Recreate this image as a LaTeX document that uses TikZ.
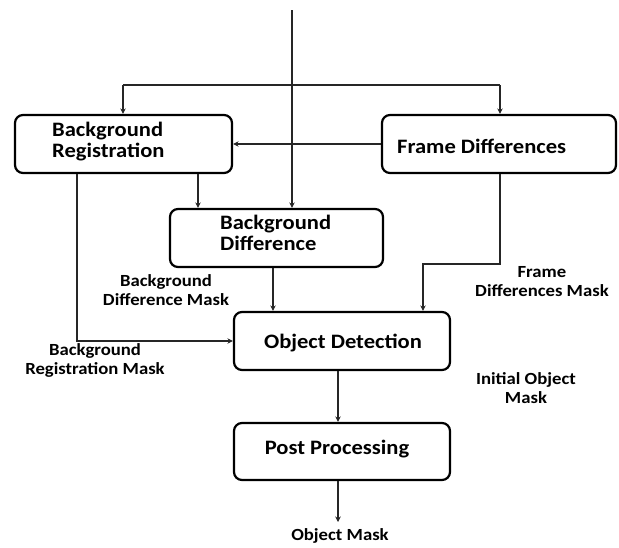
\documentclass[tikz,border=0pt]{standalone}
\usepackage{fontspec}
\setmainfont{Carlito}[FakeStretch=1.1]
\usetikzlibrary{arrows.meta}
\begin{document}
\begin{tikzpicture}[x=1pt,y=-1pt,
  box/.style={draw=black,line width=2.2pt,rounded corners=8pt,inner sep=0pt},
  boxtxt/.style={font=\fontsize{20.5}{21}\selectfont\bfseries,inner sep=0pt,align=left},
  lbl/.style={font=\fontsize{17}{19}\selectfont\bfseries,inner sep=0pt,align=center},
  conn/.style={draw=black!85,line width=1.3pt},
  arr/.style={conn,-{Stealth[length=5.5pt,width=5.5pt]}}]
\useasboundingbox (0,0) rectangle (619,547);
% boxes
\node[box,minimum width=217pt,minimum height=58pt] (BR) at (123.5,144) {};
\node[box,minimum width=234pt,minimum height=58pt] (FD) at (499,144) {};
\node[box,minimum width=213pt,minimum height=58pt] (BD) at (276.5,238) {};
\node[box,minimum width=216pt,minimum height=58pt] (OD) at (342,341) {};
\node[box,minimum width=216pt,minimum height=57pt] (PP) at (342,451.5) {};
% box texts
\node[boxtxt,anchor=west] (tBR) at (52,142) {Background\\Registration};
\node[boxtxt,anchor=west] (tFD) at (397,146) {Frame Differences};
\node[boxtxt,anchor=west] (tBD) at (220,233) {Background\\Difference};
\node[boxtxt] (tOD) at (343,343) {Object Detection};
\node[boxtxt] (tPP) at (337,449) {Post Processing};
% labels
\node[lbl] (lBDM) at (166,290) {Background\\Difference Mask};
\node[lbl] (lFDM) at (542,282) {Frame\\Differences Mask};
\node[lbl] (lBRM) at (95,360) {Background\\Registration Mask};
\node[lbl] (lIOM) at (526,388) {Initial Object\\Mask};
\node[lbl] (lOM) at (340,536) {Object Mask};
% helper coordinates
\coordinate (in) at (292,10);
\coordinate (split) at (292,85);
\coordinate (xa) at (123,0);
\coordinate (xb) at (500,0);
\coordinate (xc) at (198,0);
\coordinate (xd) at (273,0);
\coordinate (xe) at (423,0);
\coordinate (xf) at (77,0);
\coordinate (xg) at (338,0);
\coordinate (yfd) at (0,264);
\coordinate (ybr) at (0,341);
\coordinate (out) at (338,522);
% connectors
\draw[arr] (in) -- (in |- BD.north);
\draw[conn] (split -| xa) -- (split -| xb);
\draw[arr] (split -| xa) -- (BR.north -| xa);
\draw[arr] (split -| xb) -- (FD.north -| xb);
\draw[arr] (FD.west) -- (BR.east);
\draw[arr] (BR.south -| xc) -- (BD.north -| xc);
\draw[arr] (BD.south -| xd) -- (OD.north -| xd);
\draw[arr] (FD.south -| xb) -- (yfd -| xb) -- (yfd -| xe) -- (OD.north -| xe);
\draw[arr] (BR.south -| xf) -- (ybr -| xf) -- (OD.west);
\draw[arr] (OD.south -| xg) -- (PP.north -| xg);
\draw[arr] (PP.south -| xg) -- (out);
\end{tikzpicture}
\end{document}
